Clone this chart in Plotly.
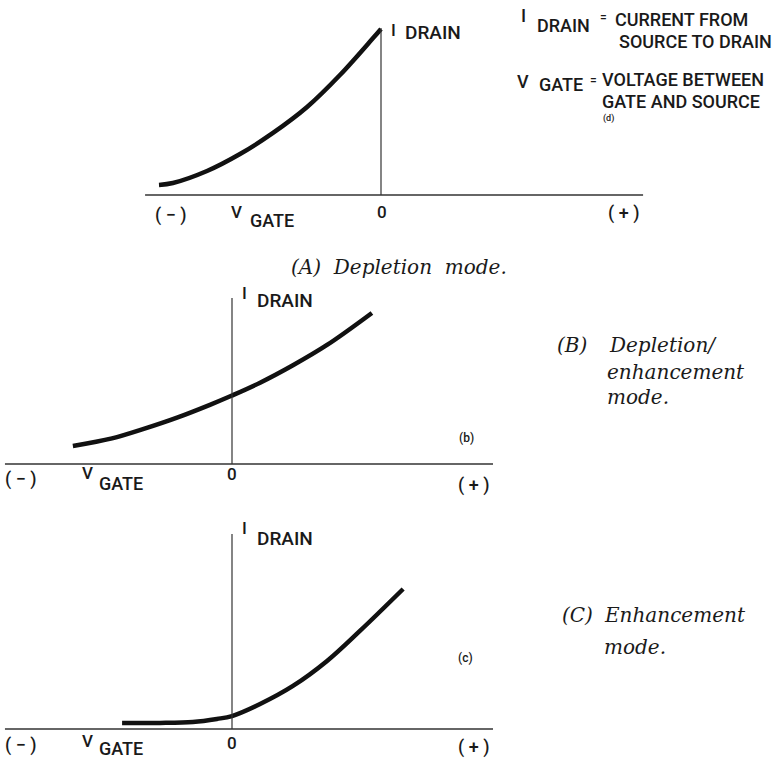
import plotly.graph_objects as go

# ---------------- data (V_GATE in arbitrary volts, I_DRAIN in arbitrary units) -------------
a_vgate = [-9.25, -8.67, -7.25, -5.875, -4.5, -3.08, -1.71, -0.33, 0.0]
a_idrain = [0.63, 0.75, 1.5, 2.56, 3.88, 5.5, 7.5, 9.81, 10.38]

b_vgate = [-6.63, -5.0, -3.71, -2.29, -0.92, 0.0, 1.17, 2.54, 3.96, 5.83]
b_idrain = [1.13, 1.6, 2.18, 2.9, 3.7, 4.28, 5.08, 6.17, 7.44, 9.44]

c_vgate = [-4.58, -3.0, -1.63, -0.63, 0.0, 1.17, 2.54, 3.96, 5.33, 7.13]
c_idrain = [0.38, 0.38, 0.44, 0.63, 0.81, 1.56, 2.69, 4.25, 6.13, 8.75]

panel_ids = ["A", "B", "C"]
axis_x_ends = [(-9.83, 10.92), (-9.46, 10.875), (-9.46, 10.875)]
axis_y_tops = [10.44, 10.38, 12.19]
panel_letters = ["(b)", "(c)"]

# ---------------- layout geometry ----------------
W, H = 775, 760
XS, YS = 24.0, 16.0          # pixels per data unit
origins = [(381, 195), (232, 464), (232, 729)]   # pixel position of (0,0)
xranges = [(-9.9, 11.0), (-9.6, 11.0), (-9.6, 11.0)]
yranges = [(-0.6, 11.2), (-0.6, 11.2), (-0.6, 13.0)]


def px(x, y):
    return x / W, 1 - y / H


fig = go.Figure()
series = [(a_vgate, a_idrain), (b_vgate, b_idrain), (c_vgate, c_idrain)]
for i, (xs, ys) in enumerate(series):
    suf = "" if i == 0 else str(i + 1)
    fig.add_trace(go.Scatter(
        x=xs, y=ys, mode="lines",
        line=dict(color="#111111", width=4.5, shape="spline", smoothing=1.0),
        xaxis="x" + suf, yaxis="y" + suf, showlegend=False, hoverinfo="skip"))
    ox, oy = origins[i]
    xr, yr = xranges[i], yranges[i]
    xd = [(ox + xr[0] * XS) / W, (ox + xr[1] * XS) / W]
    yd = [1 - (oy - yr[0] * YS) / H, 1 - (oy - yr[1] * YS) / H]
    fig.update_layout(**{
        "xaxis" + suf: dict(domain=xd, range=list(xr), visible=False, fixedrange=True,
                            anchor="y" + suf),
        "yaxis" + suf: dict(domain=yd, range=list(yr), visible=False, fixedrange=True,
                            anchor="x" + suf),
    })
    xe = axis_x_ends[i]
    fig.add_shape(type="line", xref="x" + suf, yref="y" + suf,
                  x0=xe[0], x1=xe[1], y0=0, y1=0,
                  line=dict(color="#333", width=1.4))
    fig.add_shape(type="line", xref="x" + suf, yref="y" + suf,
                  x0=0, x1=0, y0=0, y1=axis_y_tops[i],
                  line=dict(color="#333", width=1.2))

SANS = "Roboto, Liberation Sans, Arial, sans-serif"
SERIF = "DejaVu Serif, Liberation Serif, serif"
INK = "#1a1a1a"


def txt(s, x, y, size=16, xa="center", fam=SANS, style="normal", weight=500):
    xx, yy = px(x, y)
    fig.add_annotation(text=s, x=xx, y=yy, xref="paper", yref="paper",
                       xanchor=xa, yanchor="middle", showarrow=False,
                       font=dict(family=fam, size=size, color=INK,
                                 style=style, weight=weight))


# panel labels
labels = [
    # I, DRAIN, (-), V, GATE, 0, (+)
    dict(I=(393, 30), D=(403, 33), m=(171, 215), V=(237, 212), G=(248, 220), z=(382, 212), p=(623, 213)),
    dict(I=(244, 293), D=(255, 300), m=(21, 479), V=(87, 473), G=(97, 483), z=(232, 474), p=(474, 485)),
    dict(I=(244, 528), D=(255, 538), m=(21, 745), V=(87, 741), G=(97, 748), z=(232, 743), p=(473, 747)),
]
for L in labels:
    txt("I", *L["I"], size=17)
    txt("DRAIN", *L["D"], size=19, xa="left")
    txt("( − )", *L["m"], size=18)
    txt("V", *L["V"], size=17)
    txt("GATE", *L["G"], size=18, xa="left")
    txt("0", *L["z"], size=17)
    txt("( + )", *L["p"], size=18)

txt(panel_letters[0], 466, 438, size=12)
txt(panel_letters[1], 465, 658, size=12)

# definitions at top right
txt("I", 523, 16, size=18)
txt("DRAIN", 535, 25, size=18, xa="left")
txt("=", 603, 17, size=12)
txt("CURRENT FROM", 613, 20, size=18, xa="left")
txt("SOURCE TO DRAIN", 617, 42, size=18, xa="left")
txt("V", 523, 81, size=18)
txt("GATE", 537, 84, size=18, xa="left")
txt("=", 593, 80, size=12)
txt("VOLTAGE BETWEEN", 600, 79, size=18, xa="left")
txt("GATE AND SOURCE", 600, 102, size=18, xa="left")
txt("(d)", 608, 118, size=9)

# captions
txt("(A)  Depletion  mode.", 399, 267, size=20, fam=SERIF, style="italic", weight="normal")
txt("(B)", 572, 345, size=20, fam=SERIF, style="italic", weight="normal")
txt("Depletion/", 607, 345, size=20, xa="left", fam=SERIF, style="italic", weight="normal")
txt("enhancement", 605, 372, size=20, xa="left", fam=SERIF, style="italic", weight="normal")
txt("mode.", 605, 397, size=20, xa="left", fam=SERIF, style="italic", weight="normal")
txt("(C)", 577, 615, size=20, fam=SERIF, style="italic", weight="normal")
txt("Enhancement", 602, 615, size=20, xa="left", fam=SERIF, style="italic", weight="normal")
txt("mode.", 602, 647, size=20, xa="left", fam=SERIF, style="italic", weight="normal")

fig.update_layout(width=W, height=H, margin=dict(l=0, r=0, t=0, b=0),
                  paper_bgcolor="white", plot_bgcolor="white")
fig.write_html("out.html", config={"displayModeBar": False},
               post_script="document.body.style.margin='0';document.body.style.overflow='hidden';")
